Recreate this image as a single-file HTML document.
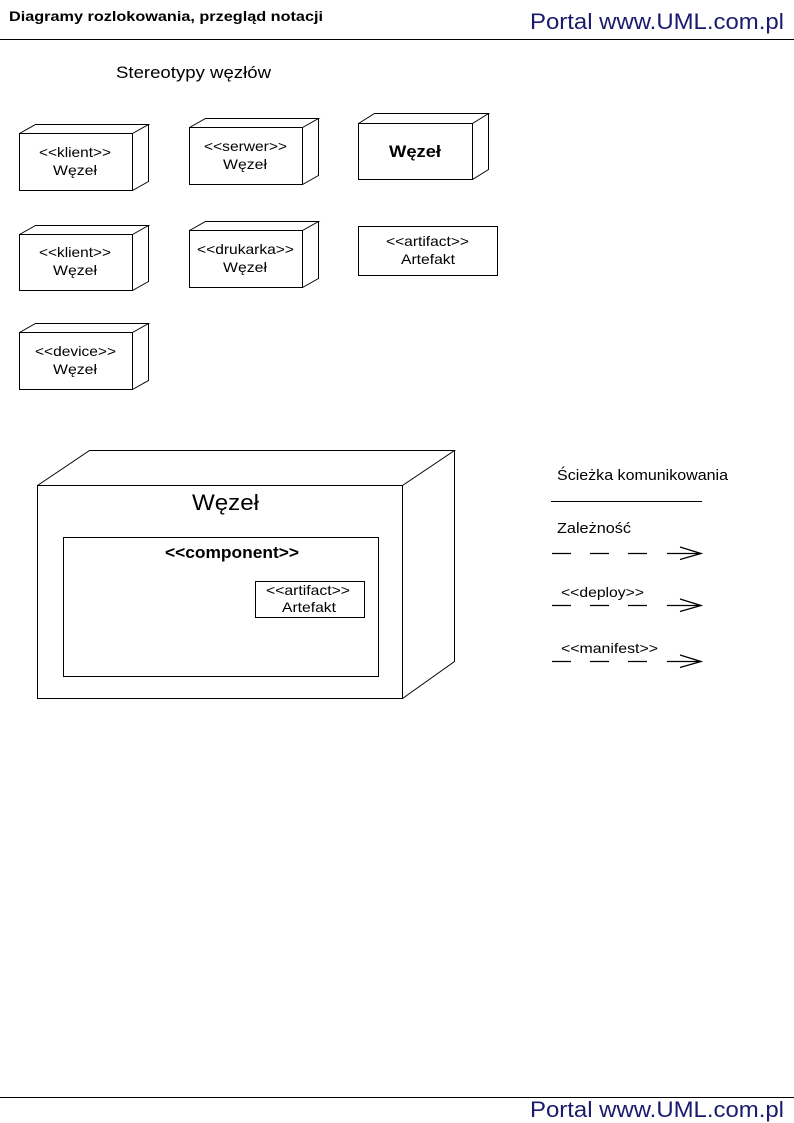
<!DOCTYPE html>
<html><head><meta charset="utf-8"><style>
html,body{margin:0;padding:0;background:#fff}
svg{display:block}
text{font-family:"Liberation Sans",Arial,sans-serif;fill:#000}
</style></head><body>
<svg width="794" height="1123" viewBox="0 0 794 1123" xmlns="http://www.w3.org/2000/svg">
<g stroke="#000" stroke-width="1" fill="none">
<line x1="0" y1="39.5" x2="794" y2="39.5"/>
<line x1="0" y1="1097.5" x2="794" y2="1097.5"/>
</g>
<text x="9" y="21" font-size="14" font-weight="bold" textLength="314" lengthAdjust="spacingAndGlyphs">Diagramy rozlokowania,  przegląd notacji</text>
<text x="530" y="29" font-size="22" textLength="254" lengthAdjust="spacingAndGlyphs" style="fill:#1a1a6e">Portal www.UML.com.pl</text>
<text x="530" y="1117" font-size="22" textLength="254" lengthAdjust="spacingAndGlyphs" style="fill:#1a1a6e">Portal www.UML.com.pl</text>
<text x="116" y="78" font-size="17" textLength="155" lengthAdjust="spacingAndGlyphs">Stereotypy węzłów</text>

<g stroke="#000" stroke-width="1" fill="none">
<path d="M19.5 133.5h113v57h-113z M19.5 133.5l16-9h113l-16 9 M148.5 124.5v57l-16 9"/>
<path d="M189.5 127.5h113v57h-113z M189.5 127.5l16-9h113l-16 9 M318.5 118.5v57l-16 9"/>
<path d="M358.5 123.5h114v56h-114z M358.5 123.5l16-10h114l-16 10 M488.5 113.5v56l-16 10"/>
<path d="M19.5 234.5h113v56h-113z M19.5 234.5l16-9h113l-16 9 M148.5 225.5v56l-16 9"/>
<path d="M189.5 230.5h113v57h-113z M189.5 230.5l16-9h113l-16 9 M318.5 221.5v57l-16 9"/>
<rect x="358.5" y="226.5" width="139" height="49"/>
<path d="M19.5 332.5h113v57h-113z M19.5 332.5l16-9h113l-16 9 M148.5 323.5v57l-16 9"/>
<path d="M37.5 485.5h365v213h-365z M37.5 485.5l52-35h365l-52 35 M454.5 450.5v211l-52 37"/>
<rect x="63.5" y="537.5" width="315" height="139"/>
<rect x="255.5" y="581.5" width="109" height="36"/>
<line x1="551" y1="501.5" x2="702" y2="501.5"/>
<g stroke-width="1.3">
<path d="M552 553.5h19 M590 553.5h19 M628 553.5h19 M667 553.5h34 M680 547l21 6.5l-21 6"/>
<path d="M552 605.5h19 M590 605.5h19 M628 605.5h19 M667 605.5h34 M680 599l21 6.5l-21 6"/>
<path d="M552 661.5h19 M590 661.5h19 M628 661.5h19 M667 661.5h34 M680 655l21 6.5l-21 6"/>
</g>
</g>

<g font-size="14" lengthAdjust="spacingAndGlyphs">
<text x="39" y="157" textLength="72" lengthAdjust="spacingAndGlyphs">&lt;&lt;klient&gt;&gt;</text><text x="53" y="175" textLength="44" lengthAdjust="spacingAndGlyphs">Węzeł</text>
<text x="204" y="151" textLength="83" lengthAdjust="spacingAndGlyphs">&lt;&lt;serwer&gt;&gt;</text><text x="223" y="169" textLength="44" lengthAdjust="spacingAndGlyphs">Węzeł</text>
<text x="39" y="257" textLength="72" lengthAdjust="spacingAndGlyphs">&lt;&lt;klient&gt;&gt;</text><text x="53" y="275" textLength="44" lengthAdjust="spacingAndGlyphs">Węzeł</text>
<text x="197" y="254" textLength="97" lengthAdjust="spacingAndGlyphs">&lt;&lt;drukarka&gt;&gt;</text><text x="223" y="272" textLength="44" lengthAdjust="spacingAndGlyphs">Węzeł</text>
<text x="386" y="246" textLength="83" lengthAdjust="spacingAndGlyphs">&lt;&lt;artifact&gt;&gt;</text><text x="401" y="264" textLength="54" lengthAdjust="spacingAndGlyphs">Artefakt</text>
<text x="35" y="356" textLength="81" lengthAdjust="spacingAndGlyphs">&lt;&lt;device&gt;&gt;</text><text x="53" y="374" textLength="44" lengthAdjust="spacingAndGlyphs">Węzeł</text>
<text x="389" y="157" font-size="17" font-weight="bold" textLength="52" lengthAdjust="spacingAndGlyphs">Węzeł</text>
<text x="192" y="510" font-size="22" textLength="67" lengthAdjust="spacingAndGlyphs">Węzeł</text>
<text x="165" y="558" font-size="17" font-weight="bold" textLength="134" lengthAdjust="spacingAndGlyphs">&lt;&lt;component&gt;&gt;</text>
<text x="266" y="595" textLength="84" lengthAdjust="spacingAndGlyphs">&lt;&lt;artifact&gt;&gt;</text><text x="282" y="612" textLength="54" lengthAdjust="spacingAndGlyphs">Artefakt</text>
<text x="557" y="480" font-size="15" textLength="171" lengthAdjust="spacingAndGlyphs">Ścieżka komunikowania</text>
<text x="557" y="533" font-size="15" textLength="74" lengthAdjust="spacingAndGlyphs">Zależność</text>
<text x="561" y="597" textLength="83" lengthAdjust="spacingAndGlyphs">&lt;&lt;deploy&gt;&gt;</text>
<text x="561" y="653" textLength="97" lengthAdjust="spacingAndGlyphs">&lt;&lt;manifest&gt;&gt;</text>
</g>
</svg>
</body></html>
